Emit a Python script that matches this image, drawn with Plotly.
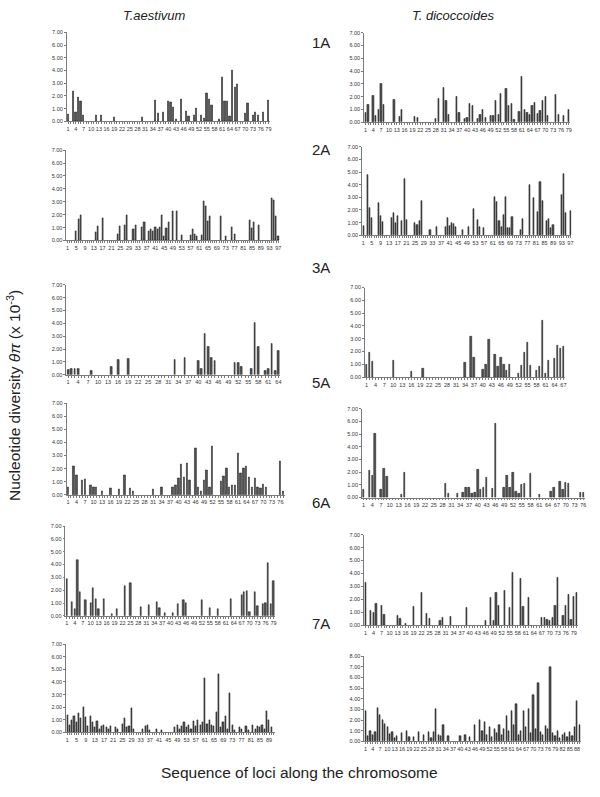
import plotly.graph_objects as go

# Nucleotide diversity (theta pi, x 10^-3) per locus.
# T. aestivum
aes_1A = [0.55, 0, 2.35, 0.7, 1.9, 1.6, 0.5, 0, 0, 0,
          0, 0.5, 0, 0.5, 0, 0, 0, 0, 0.35, 0,
          0, 0, 0, 0, 0, 0, 0, 0, 0, 0.35,
          0, 0, 0, 0, 1.65, 0.65, 0, 0.7, 0, 1.6,
          1.5, 1.1, 0.15, 0, 1.7, 0, 0.8, 0.4, 0, 0.45,
          1.05, 0, 0.5, 0.25, 2.2, 1.7, 1.25, 0, 0, 0.15,
          3.5, 1.6, 1.55, 0.4, 4.0, 2.65, 2.95, 0, 0, 0.6,
          1.4, 0, 0.5, 0.75, 0.45, 0, 0.7, 0, 1.65]
aes_2A = [0, 0, 0, 0, 0.7, 1.65, 1.95, 0, 0, 0,
          0, 0, 0, 0.65, 1.1, 0, 1.7, 0, 0, 0,
          0, 0, 0, 0.5, 1.1, 0, 1.2, 2.0, 0, 0,
          0.9, 1.15, 0, 0, 1.0, 1.4, 0, 0.7, 0.9, 0.7,
          1.0, 0.85, 1.0, 1.95, 0.3, 0.95, 1.4, 0, 2.3, 0,
          2.25, 0, 0.4, 0, 0, 0, 0.4, 0.85, 0.5, 0.3,
          0, 0.4, 3.05, 2.65, 1.5, 1.9, 0, 0, 0, 0,
          1.9, 0, 0.3, 0, 0, 1.0, 0.5, 0, 0, 0,
          0, 0, 0, 1.6, 0.95, 1.4, 0, 1.2, 0, 0,
          0, 0, 0, 3.3, 3.1, 1.85, 0.35]
aes_3A = [0.35, 0.5, 0.45, 0.45, 0, 0, 0, 0.3, 0, 0,
          0, 0, 0, 0.65, 0, 1.18, 0, 0, 1.25, 0,
          0, 0, 0, 0, 0, 0, 0, 0, 0, 0,
          0, 0, 1.2, 0, 0, 1.35, 0, 0, 0, 1.1,
          0.5, 3.2, 2.2, 1.28, 1.05, 0, 0, 0, 0, 0,
          0.95, 0.92, 0.6, 0, 0, 0.5, 4.05, 2.15, 0, 0.3,
          0.5, 2.4, 0.3, 1.9]
aes_5A = [0.6, 0, 2.2, 1.5, 0, 1.1, 1.15, 0, 0.7, 0.55,
          0.6, 0, 0.3, 0, 0, 0.5, 0, 0, 0.45, 0,
          1.5, 0, 0.5, 0.25, 0, 0, 0, 0, 0, 0,
          0.45, 0, 0, 0.6, 0, 0, 0, 0.55, 0.7, 1.3,
          2.3, 1.35, 2.4, 1.1, 0, 3.55, 0.6, 0.3, 1.1, 1.9,
          0.6, 3.7, 0, 0, 1.05, 1.45, 2.0, 0.6, 0.75, 0.75,
          3.2, 1.65, 2.05, 2.2, 1.35, 0.6, 1.25, 0.6, 0.5, 0.8,
          0.6, 0, 0, 0, 0, 2.6, 0.3]
aes_6A = [2.9, 0, 1.05, 0.55, 4.35, 1.85, 0, 1.2, 0, 1.0,
          2.2, 1.35, 0.55, 0, 1.3, 0, 0, 0.15, 0, 0.55,
          0, 0, 2.35, 0, 2.55, 0, 0, 0, 0.7, 0,
          0, 0.85, 0, 0, 1.05, 0.6, 0, 0.2, 0, 0,
          0.25, 0, 0.95, 0, 1.2, 1.0, 0, 0, 0, 0,
          0, 1.2, 0, 0, 0.6, 0, 0, 0.55, 0, 0,
          0, 0, 1.35, 0, 0, 0, 1.6, 1.85, 1.9, 0.3,
          0, 1.85, 0.75, 0, 0.9, 1.0, 4.15, 0.9, 2.75]
aes_7A = [1.4, 0.6, 1.0, 1.3, 0.8, 1.5, 1.1, 2.0, 1.2, 0.5,
          1.3, 0.8, 0.4, 0.9, 0.3, 0.5, 0.6, 0.4, 0.3, 0.5,
          0, 0.4, 0.3, 0, 0.7, 1.1, 0.4, 0.5, 1.95, 0.3,
          0, 0, 0, 0.3, 0.5, 0.6, 0.2, 0, 0, 0.3,
          0, 0.2, 0, 0, 0, 0, 0, 0.4, 0.6, 0.3,
          0.5, 0.8, 0.4, 0.6, 0.3, 0.9, 0.5, 1.0, 0.6, 0.8,
          4.3, 0.7, 1.0, 0.6, 0.5, 1.6, 4.6, 0.4, 0.8, 1.3,
          0.3, 3.1, 0.6, 0.2, 0, 0.4, 0.3, 0, 0.5, 0.2,
          0, 0.6, 0.3, 0.5, 0.4, 0.6, 0.3, 1.7, 1.0, 0.4, 0]

# T. dicoccoides
dic_1A = [0.75, 1.35, 0, 2.1, 0.5, 1.0, 3.0, 1.35, 0, 0,
          0, 1.75, 0, 0.45, 0.95, 0, 0, 0, 0, 0.45,
          0.3, 0, 0, 0, 0, 0, 0, 0.25, 1.8, 0,
          2.7, 1.7, 0.6, 0, 0, 1.95, 0.75, 0, 0.25, 0.35,
          1.4, 1.25, 0, 0.25, 0.55, 1.0, 0.35, 0, 0.5, 0.5,
          1.65, 0.55, 2.25, 0, 2.6, 1.3, 1.45, 0.2, 0, 0.8,
          3.55, 0.95, 0.75, 0.6, 1.3, 1.55, 0.65, 0.85, 1.65, 2.0,
          0.5, 0, 0, 2.15, 0.55, 0, 0.5, 0, 0.95]
dic_2A = [0.75, 0, 4.75, 2.15, 1.4, 0, 0, 2.55, 1.55, 1.05,
          0, 0, 0, 1.4, 1.75, 0.95, 1.55, 0, 1.1, 4.45,
          1.25, 0, 0, 0, 0.95, 0.8, 1.1, 2.7, 0, 0,
          0, 0.4, 0, 0, 0.7, 0, 0, 0, 0.7, 1.4,
          0.75, 0.95, 0.9, 0.7, 0, 0, 0.45, 0, 0, 0.65,
          0, 2.1, 0, 1.2, 0.65, 0, 0.6, 0, 0, 0,
          0, 3.05, 2.65, 1.1, 0.7, 1.6, 3.05, 0.55, 0.55, 1.45,
          0, 0, 0, 0.4, 1.3, 0, 0, 3.95, 0, 2.95,
          0, 1.85, 4.2, 2.7, 0, 1.1, 1.3, 0.6, 0.85, 0,
          0, 0, 3.2, 4.85, 1.75, 0, 1.95]
dic_3A = [1.0, 1.9, 1.2, 0, 0, 0, 0, 0, 0, 1.3,
          0, 0, 0, 0, 0, 0.45, 0, 0, 0, 0.65,
          0, 0, 0, 0, 0, 0, 0, 0, 0, 0,
          0, 0, 0, 1.1, 0, 3.2, 1.55, 0, 0, 0.6,
          1.0, 2.95, 0, 1.75, 0.8, 1.55, 1.0, 0.5, 0.97, 0,
          0, 0.3, 0.9, 1.9, 2.7, 0.9, 0, 0.5, 0.8, 4.45,
          0.3, 1.3, 0, 1.45, 2.45, 2.2, 2.4]
dic_5A = [0.6, 0, 2.15, 1.75, 5.0, 0, 0.6, 2.3, 1.65, 0,
          0, 0, 0, 0.2, 1.95, 0, 0, 0, 0, 0,
          0, 0, 0, 0, 0, 0, 0, 0, 1.1, 0.3,
          0, 0, 0.3, 0, 0.35, 0.75, 0.8, 0.3, 0.4, 2.2,
          0.6, 0.8, 1.6, 0, 0.7, 5.8, 0, 0, 0.8, 1.7,
          0.8, 2.0, 0.45, 0.3, 1.05, 1.1, 0, 1.9, 0, 0,
          0.25, 0, 0, 0, 0.5, 0.8, 0, 1.25, 0.6, 1.2,
          1.1, 0, 0, 0, 0.35, 0.35]
dic_6A = [3.3, 0, 1.1, 0.95, 1.65, 0, 1.5, 0.8, 0, 0,
          0, 0, 0.75, 0.5, 0, 0.15, 0, 0, 1.4, 0,
          0, 2.5, 0, 0.9, 0.5, 0, 0, 0, 0.35, 0.6,
          0, 0, 0.7, 0, 0, 0, 0, 0, 1.35, 0,
          0, 0, 0, 0, 0, 0.35, 0, 2.1, 0.35, 2.5,
          1.5, 0, 2.7, 0, 1.35, 4.05, 0, 0, 3.6, 1.45,
          0, 2.15, 0, 0, 0, 0, 0.55, 0.55, 0.45, 0.35,
          0.6, 1.55, 3.7, 0, 0.75, 1.55, 2.35, 0.45, 2.2, 2.55]
dic_7A = [2.8, 0.5, 1.0, 0.6, 0.9, 3.1, 2.5, 2.0, 1.6, 1.3,
          0.7, 0.9, 0.3, 0.5, 0, 0.8, 0, 1.0, 0.4, 0,
          0.4, 0, 0.9, 0, 0.6, 0, 0.9, 0.3, 0.9, 3.0,
          0.6, 0.5, 1.5, 0, 0.5, 0, 0, 0, 0, 0.5,
          0, 0.6, 0, 0.4, 0, 1.5, 0, 2.0, 1.0, 1.8,
          0.6, 1.3, 0.4, 1.2, 0.8, 1.5, 0.6, 1.2, 2.4, 1.0,
          2.8, 1.5, 3.5, 0.6, 1.0, 2.8, 1.3, 3.0, 0.8, 4.3,
          1.2, 5.5, 0.9, 0.6, 1.4, 1.2, 7.0, 0.8, 0.5, 1.0,
          0.3, 0.6, 0.8, 0.4, 0.9, 0.5, 1.3, 3.8, 1.5]

chromosomes = ["1A", "2A", "3A", "5A", "6A", "7A"]
aes_series = [aes_1A, aes_2A, aes_3A, aes_5A, aes_6A, aes_7A]
dic_series = [dic_1A, dic_2A, dic_3A, dic_5A, dic_6A, dic_7A]

# centromere position (locus index) marked with a triangle
centromere_aes = [22, 33, 15, 25, 22, 33]
centromere_dic = [23.7, 33, 16, 25.5, 24.4, 36]

# every n-th locus gets a tick label
label_step_aes = [3, 4, 3, 3, 3, 4]
label_step_dic = [3, 4, 3, 3, 3, 3]
y_max_aes = [7, 7, 7, 7, 7, 7]
y_max_dic = [7, 7, 7, 7, 7, 8]

W, H = 600, 797
# panel boxes in pixels: x left, x right, y of top value, y of zero
box_aes = [(67.0, 270.6, 29.5, 119.3), (66.6, 280.4, 148.3, 239.3),
           (66.6, 281.0, 284.0, 374.6), (66.9, 285.6, 403.3, 495.5),
           (65.7, 275.7, 527.0, 617.5), (66.4, 275.7, 646.0, 735.0)]
box_dic = [(365.4, 572.0, 30.0, 120.0), (363.4, 573.4, 145.0, 234.0),
           (366.2, 566.8, 286.7, 376.9), (363.2, 586.7, 408.7, 498.3),
           (365.4, 579.7, 535.7, 627.0), (365.5, 582.7, 658.0, 744.0)]
row_label_y = [40, 148, 267, 382, 503, 625]

AXIS_GREY = "#7a7a7a"
TICK_FONT = dict(family="Liberation Sans", size=5.5, color="#333333")

fig = go.Figure()
layout = {}
panels = []
for i in range(6):
    panels.append((aes_series[i], centromere_aes[i], label_step_aes[i], y_max_aes[i], box_aes[i]))
    panels.append((dic_series[i], centromere_dic[i], label_step_dic[i], y_max_dic[i], box_dic[i]))

for k, (vals, cen, step, ymax, box) in enumerate(panels, start=1):
    xa, ya = f"x{k}", f"y{k}"
    n = len(vals)
    loci = list(range(1, n + 1))
    fig.add_trace(go.Bar(
        x=loci, y=[v if v > 0 else None for v in vals],
        xaxis=xa, yaxis=ya, width=0.5,
        marker=dict(color="#555555", line=dict(color="#111111", width=0.5)),
        showlegend=False, hoverinfo="skip",
    ))
    fig.add_trace(go.Scatter(
        x=[cen], y=[-0.03 * ymax], xaxis=xa, yaxis=ya, mode="markers",
        marker=dict(symbol="triangle-up", size=6, color="black"),
        cliponaxis=False, showlegend=False, hoverinfo="skip",
    ))
    x0, x1, ytop, ybot = box
    ticks = list(range(1, n + 1, step))
    layout[f"xaxis{k}"] = dict(
        domain=[x0 / W, x1 / W], anchor=ya, range=[0.5, n + 0.5],
        tickmode="array", tickvals=ticks, ticktext=[str(t) for t in ticks],
        ticks="outside", ticklen=2, tickwidth=0.5, tickcolor=AXIS_GREY,
        minor=dict(tickmode="linear", tick0=1, dtick=1, ticks="outside",
                   ticklen=2, tickwidth=0.5, tickcolor=AXIS_GREY),
        showline=True, linecolor=AXIS_GREY, linewidth=0.8,
        showgrid=False, zeroline=False, tickfont=TICK_FONT, tickangle=0,
    )
    layout[f"yaxis{k}"] = dict(
        domain=[1 - ybot / H, 1 - ytop / H], anchor=xa, range=[0, ymax],
        tickmode="linear", tick0=0, dtick=1, tickformat=".2f",
        ticks="outside", ticklen=2, tickwidth=0.5, tickcolor=AXIS_GREY,
        showline=True, linecolor=AXIS_GREY, linewidth=0.8,
        showgrid=False, zeroline=False, tickfont=TICK_FONT,
    )

TEXT_FONT = dict(family="Liberation Sans", size=13, color="#222222")
BIG_FONT = dict(family="Liberation Sans", size=15.5, color="#222222")
ROW_FONT = dict(family="Liberation Sans", size=15, color="#222222")
annotations = [
    dict(text="<i>T.aestivum</i>", x=155 / W, y=1 - 13 / H, font=TEXT_FONT),
    dict(text="<i>T. dicoccoides</i>", x=455 / W, y=1 - 13 / H, font=TEXT_FONT),
    dict(text="Sequence of loci along the chromosome", x=300 / W,
         y=1 - 775 / H, font=BIG_FONT),
    dict(text="Nucleotide diversity <i>θπ</i> (x 10<sup>-3</sup>)",
         x=14 / W, y=1 - 395 / H, textangle=-90, font=BIG_FONT),
]
for name, yy in zip(chromosomes, row_label_y):
    annotations.append(dict(text=name, x=322 / W, y=1 - yy / H, font=ROW_FONT))
for a in annotations:
    a.update(xref="paper", yref="paper", showarrow=False,
             xanchor="center", yanchor="middle")

fig.update_layout(
    width=W, height=H, margin=dict(l=0, r=0, t=0, b=0),
    paper_bgcolor="white", plot_bgcolor="white",
    bargap=0, annotations=annotations, **layout,
)

fig.write_html("out.html", config={"displayModeBar": False},
               post_script="document.body.style.margin='0';")
